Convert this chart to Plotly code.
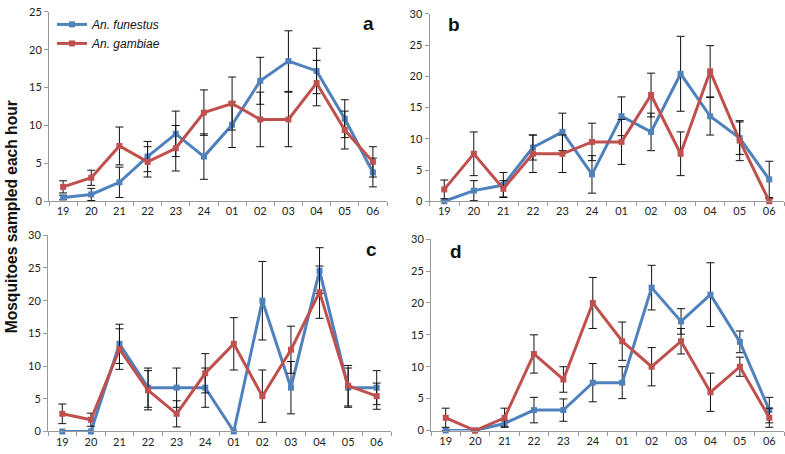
import plotly.graph_objects as go

hours = ['19', '20', '21', '22', '23', '24', '01', '02', '03', '04', '05', '06']

a_fun = [0.5, 0.9, 2.5, 5.9, 8.9, 5.9, 10.1, 15.9, 18.5, 17.2, 10.9, 3.8]
a_fun_err = [0.3, 0.8, 2.0, 2.0, 3.0, 3.0, 3.0, 3.1, 4.0, 3.0, 2.5, 1.9]
a_gam = [1.9, 3.1, 7.3, 5.2, 7.0, 11.7, 12.9, 10.8, 10.8, 15.6, 9.4, 5.2]
a_gam_err = [0.8, 1.0, 2.5, 2.0, 3.0, 3.0, 3.5, 3.6, 3.6, 3.0, 2.5, 2.0]

b_fun = [0, 1.7, 2.6, 8.6, 11.1, 4.3, 13.6, 11.1, 20.4, 13.6, 10.1, 3.5]
b_fun_err = [0, 1.6, 2.0, 2.0, 3.0, 3.0, 3.1, 3.0, 6.0, 3.0, 2.6, 2.9]
b_gam = [1.9, 7.6, 2.0, 7.6, 7.6, 9.5, 9.5, 17.0, 7.6, 20.8, 9.7, 0]
b_gam_err = [1.5, 3.5, 1.3, 3.0, 3.0, 3.0, 3.6, 3.5, 3.5, 4.1, 3.2, 0.4]

c_fun = [0, 0, 13.4, 6.7, 6.7, 6.7, 0, 20.0, 6.7, 24.6, 6.7, 6.7]
c_fun_err = [0, 0, 3.0, 3.0, 3.0, 3.0, 0, 6.0, 4.0, 3.5, 3.0, 2.6]
c_gam = [2.7, 1.8, 12.6, 6.3, 2.7, 8.9, 13.4, 5.4, 12.5, 21.3, 7.0, 5.4]
c_gam_err = [1.5, 1.0, 3.1, 3.0, 2.0, 3.0, 4.0, 4.0, 3.6, 4.0, 3.1, 2.0]

d_fun = [0, 0, 1.1, 3.2, 3.2, 7.5, 7.5, 22.4, 17.1, 21.3, 13.9, 3.2]
d_fun_err = [0, 0, 0.5, 2.0, 1.75, 3.0, 2.5, 3.5, 2.0, 5.0, 1.7, 2.0]
d_gam = [2.0, 0, 2.0, 12.0, 8.0, 20.0, 14.0, 10.0, 14.0, 6.0, 10.0, 2.0]
d_gam_err = [1.5, 0, 1.5, 3.0, 2.0, 4.0, 3.0, 3.0, 2.0, 3.0, 1.5, 1.5]

panels = [
    ('a', a_fun, a_fun_err, a_gam, a_gam_err, 25),
    ('b', b_fun, b_fun_err, b_gam, b_gam_err, 30),
    ('c', c_fun, c_fun_err, c_gam, c_gam_err, 30),
    ('d', d_fun, d_fun_err, d_gam, d_gam_err, 30),
]

W, H = 785, 454
# pixel boxes: (left, right, top, bottom)
boxes = [(49, 387, 5, 200), (429.5, 784, 7, 200), (48, 391, 235, 437), (431, 784, 239, 436)]
letter_pos = [(368, 17), (454, 18), (371, 250), (456, 252)]

BLUE = '#4f81bd'
RED = '#c0504d'

fig = go.Figure()
layout = {}
annotations = []
for i, (lab, fun, fun_err, gam, gam_err, ymax) in enumerate(panels):
    n = '' if i == 0 else str(i + 1)
    xa, ya = 'x' + n, 'y' + n
    for name, vals, errs, col in [('An. funestus', fun, fun_err, BLUE), ('An. gambiae', gam, gam_err, RED)]:
        fig.add_trace(go.Scatter(
            x=hours, y=vals, mode='lines+markers', name='<i>%s</i>' % name,
            xaxis=xa, yaxis=ya, showlegend=(i == 0), cliponaxis=False,
            line=dict(color=col, width=3), marker=dict(symbol='square', size=6, color=col),
            error_y=dict(type='data', array=errs, visible=True, color='#111', thickness=1, width=4),
        ))
    l, r, t, b = boxes[i]
    layout['xaxis' + n] = dict(
        domain=[l / W, r / W], anchor=ya, type='category', categoryorder='array', categoryarray=hours,
        range=[-0.5, 11.5], showline=True, linecolor='#999', linewidth=1, ticks='outside',
        tickson='boundaries', ticklen=4, tickcolor='#999', showgrid=False, zeroline=False,
        tickfont=dict(family='Lato', size=11, color='#222'), fixedrange=True,
    )
    layout['yaxis' + n] = dict(
        domain=[1 - b / H, 1 - t / H], anchor=xa, range=[0, ymax], dtick=5, showline=True,
        linecolor='#999', linewidth=1, ticks='outside', ticklen=4, tickcolor='#999',
        showgrid=False, zeroline=False, tickfont=dict(family='Lato', size=11, color='#222'),
    )
    lx, ly = letter_pos[i]
    annotations.append(dict(text='<b>%s</b>' % lab, x=lx / W, y=1 - ly / H, xref='paper', yref='paper',
                            showarrow=False, font=dict(family='Liberation Sans', size=19, color='#111'),
                            xanchor='center', yanchor='middle'))

annotations.append(dict(text='<b>Mosquitoes sampled each hour</b>', x=11.5 / W, y=1 - 216 / H,
                        xref='paper', yref='paper', showarrow=False, textangle=-90,
                        font=dict(family='Liberation Sans', size=15.6, color='#111'),
                        xanchor='center', yanchor='middle'))

fig.update_layout(
    width=W, height=H, margin=dict(l=0, r=0, t=0, b=0),
    paper_bgcolor='white', plot_bgcolor='white',
    annotations=annotations,
    legend=dict(x=52 / W, y=1 - 3 / H, xanchor='left', yanchor='top', bgcolor='rgba(0,0,0,0)',
                font=dict(family='Liberation Sans', size=12, color='#111'), tracegroupgap=0),
    **layout,
)
fig.write_html('out.html', config={'displayModeBar': False},
               post_script="document.body.style.margin='0';document.body.style.overflow='hidden';")
